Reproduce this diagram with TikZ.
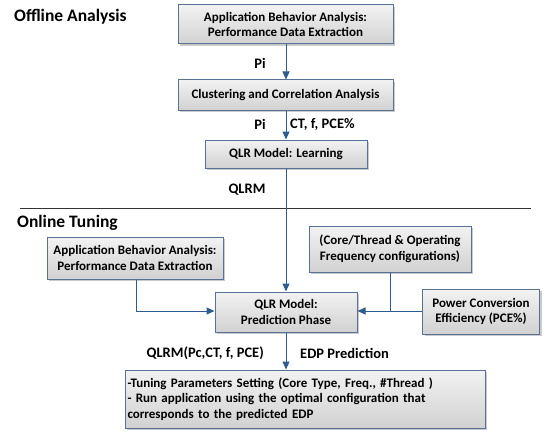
\documentclass[tikz,border=0pt]{standalone}
\usepackage{fontspec}
\setmainfont{Carlito}
\usetikzlibrary{arrows.meta,shadows,positioning}
\definecolor{boxline}{HTML}{5A7094}
\definecolor{arrowc}{HTML}{2F5C8F}
\tikzset{
  box/.style={draw=boxline, line width=1pt, top color=white!95!black, bottom color=white!82!black,
    drop shadow={shadow xshift=2pt, shadow yshift=-2pt, fill=black!35, opacity=0.6},
    font=\bfseries\fontsize{13}{15.5}\selectfont, align=center, inner sep=0pt},
  conn/.style={draw=arrowc, line width=1pt},
  arr/.style={conn, -{Triangle[width=7pt,length=8pt]}},
  lab/.style={font=\bfseries\fontsize{14.5}{16}\selectfont, inner sep=0pt},
  head/.style={font=\bfseries\fontsize{17.5}{19}\selectfont, inner sep=0pt, anchor=west}
}
\begin{document}
\begin{tikzpicture}[x=1pt,y=-1pt]
\useasboundingbox (0,0) rectangle (553,433);
\node[head] (off) at (14,17) {Offline Analysis};
\node[head] (on) at (17,223) {Online Tuning};
\node[box, minimum width=215pt, minimum height=39pt] (b1) at (285.5,24.5) {Application Behavior Analysis:\\Performance Data Extraction};
\node[box, minimum width=215pt, minimum height=30pt] (b2) at (285.5,95) {Clustering and Correlation Analysis};
\node[box, minimum width=162pt, minimum height=28pt] (b3) at (286,154) {QLR Model: Learning};
\coordinate (l1) at (20,208);
\coordinate (l2) at (531,208);
\draw[line width=0.9pt, black!80] (l1) -- (l2);
\node[box, minimum width=176pt, minimum height=42pt] (b4) at (135,258) {Application Behavior Analysis:\\ Performance Data Extraction};
\node[box, minimum width=162pt, minimum height=46pt] (b5) at (390,249) {(Core/Thread \& Operating\\Frequency configurations)};
\node[box, minimum width=142pt, minimum height=40pt] (b6) at (286,312) {QLR Model:\\Prediction Phase};
\node[box, minimum width=117pt, minimum height=45pt] (b7) at (481,311.5) {Power Conversion\\Efficiency (PCE\%)};
\node[box, minimum width=360pt, minimum height=58pt, align=left, text width=355pt] (b8) at (305,399) {-Tuning Parameters Setting (Core Type, Freq., \#Thread )\\- Run application using the optimal configuration that\\corresponds to the predicted EDP};
\draw[arr] (b1.south -| 286,0) -- (b2.north -| 286,0);
\draw[arr] (b2.south -| 286,0) -- (b3.north -| 286,0);
\draw[arr] (b3.south -| 286,0) -- (b6.north -| 286,0);
\coordinate (j) at (390,311);
\draw[arr] (b4.south -| 136,0) |- (b6.west |- 0,311);
\draw[conn] (b5.south -| 390,0) -- (j);
\draw[arr] (b7.west |- 0,311) -- (b6.east |- 0,311);
\draw[arr] (b6.south -| 286,0) -- (b8.north -| 286,0);
\node[lab] (p1) at (260,63) {Pi};
\node[lab] (p2) at (260,124) {Pi};
\node[lab, anchor=west] (ct) at (290,124) {CT, f, PCE\%};
\node[lab] (q) at (247,190) {QLRM};
\node[lab, anchor=east] (q2) at (264,353) {QLRM(Pc,CT, f, PCE)};
\node[lab, anchor=west] (edp) at (300,353) {EDP Prediction};
\end{tikzpicture}
\end{document}
